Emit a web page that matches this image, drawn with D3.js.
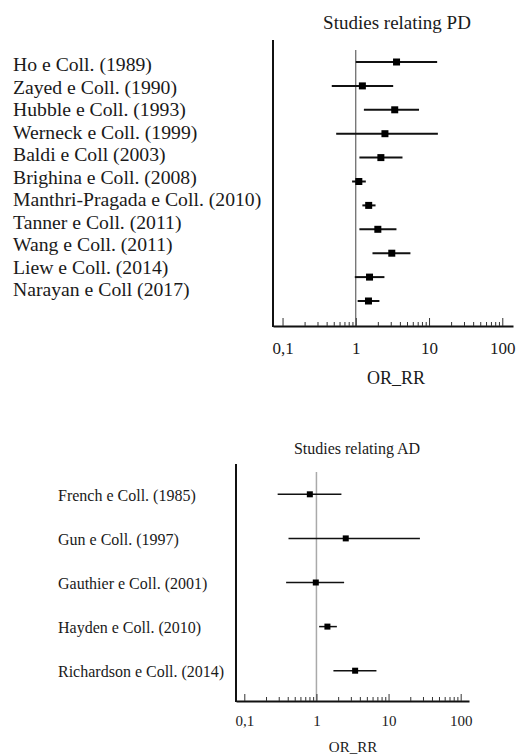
<!DOCTYPE html>
<html>
<head>
<meta charset="utf-8">
<script src="https://cdn.jsdelivr.net/npm/d3@7/dist/d3.min.js"></script>
<style>
  body { margin: 0; background: #fff; }
</style>
</head>
<body>
<div id="chart"></div>
<script>
var svgWidth = 518;
var svgHeight = 755;
var serif = "'Liberation Serif', 'Times New Roman', Times, serif";

// PD studies
var pdStudies = ["Ho e Coll. (1989)", "Zayed e Coll. (1990)", "Hubble e Coll. (1993)",
  "Werneck e Coll. (1999)", "Baldi e Coll (2003)", "Brighina e Coll. (2008)",
  "Manthri-Pragada e Coll. (2010)", "Tanner e Coll. (2011)", "Wang e Coll. (2011)",
  "Liew e Coll. (2014)", "Narayan e Coll (2017)"];
var pdEstimate = [3.6, 1.23, 3.4, 2.5, 2.2, 1.1, 1.5, 2.0, 3.1, 1.54, 1.49];
var pdLower = [1.0, 0.47, 1.29, 0.54, 1.12, 0.89, 1.23, 1.12, 1.69, 0.97, 1.06];
var pdUpper = [12.9, 3.24, 7.3, 13.2, 4.34, 1.37, 1.86, 3.59, 5.57, 2.46, 2.10];

// AD studies
var adStudies = ["French e Coll. (1985)", "Gun e Coll. (1997)", "Gauthier e Coll. (2001)",
  "Hayden e Coll. (2010)", "Richardson e Coll. (2014)"];
var adEstimate = [0.81, 2.55, 0.98, 1.42, 3.44];
var adLower = [0.29, 0.41, 0.38, 1.09, 1.72];
var adUpper = [2.22, 27.2, 2.42, 1.92, 6.79];

var majorTicks = [0.1, 1, 10, 100];
var tickText = ["0,1", "1", "10", "100"];

var svg = d3.select("#chart")
  .append("svg")
  .attr("width", svgWidth)
  .attr("height", svgHeight);

function isMajor(d) {
  return majorTicks.some(function(m) { return Math.abs(m - d) < 1e-9; });
}

function forest(opt) {
  var g = svg.append("g");

  var x = d3.scaleLog().domain(opt.xDomain).range(opt.xRange);
  var y = d3.scalePoint().domain(opt.studies).range(opt.yRange);
  var yLabel = d3.scalePoint().domain(opt.studies).range(opt.labelRange);

  var rows = opt.studies.map(function(s, i) {
    return { name: s, est: opt.est[i], lo: opt.lo[i], hi: opt.hi[i] };
  });

  // title
  g.append("text")
    .attr("x", opt.titleX)
    .attr("y", opt.titleY)
    .attr("text-anchor", "middle")
    .attr("fill", "#1a1a1a")
    .style("font-family", serif)
    .style("font-size", opt.titleSize + "px")
    .text(opt.title);

  // reference line at 1
  g.append("line")
    .attr("x1", x(1)).attr("x2", x(1))
    .attr("y1", opt.refTop).attr("y2", opt.axisY)
    .attr("stroke", opt.refColor)
    .attr("stroke-width", opt.refWidth);

  // x axis, ticks pointing up
  var allTicks = x.ticks().filter(function(t) { return t >= 0.1 && t <= 100; });
  var xAxis = g.append("g")
    .attr("transform", `translate(0, ${opt.axisY})`)
    .call(d3.axisBottom(x)
      .tickValues(allTicks)
      .tickSizeInner(-opt.minorLen)
      .tickSizeOuter(0)
      .tickFormat(function(d) {
        var k = majorTicks.findIndex(function(m) { return Math.abs(m - d) < 1e-9; });
        return k >= 0 ? tickText[k] : "";
      }));
  xAxis.attr("font-family", serif);
  xAxis.select(".domain").attr("stroke", "#111").attr("stroke-width", 2);
  xAxis.selectAll(".tick line").attr("stroke", "#333")
    .attr("y2", d => isMajor(d) ? -opt.majorLen : -opt.minorLen);
  xAxis.selectAll(".tick text")
    .attr("y", opt.tickBase)
    .attr("dy", 0)
    .attr("fill", "#1a1a1a")
    .style("font-family", serif)
    .style("font-size", opt.tickSize + "px");

  // y axis line
  g.append("line")
    .attr("x1", opt.xRange[0]).attr("x2", opt.xRange[0])
    .attr("y1", opt.axisTop).attr("y2", opt.axisY + 1)
    .attr("stroke", "#111")
    .attr("stroke-width", 2);

  // axis title
  g.append("text")
    .attr("x", opt.xTitleX)
    .attr("y", opt.xTitleY)
    .attr("text-anchor", "middle")
    .attr("fill", "#1a1a1a")
    .style("font-family", serif)
    .style("font-size", opt.xTitleSize + "px")
    .text("OR_RR");

  // study labels
  g.selectAll(".label")
    .data(rows)
    .enter()
    .append("text")
    .attr("x", opt.labelX)
    .attr("y", d => yLabel(d.name))
    .attr("fill", "#1a1a1a")
    .style("font-family", serif)
    .style("font-size", opt.labelSize + "px")
    .text(d => d.name);

  // confidence intervals
  g.selectAll(".ci")
    .data(rows)
    .enter()
    .append("line")
    .attr("x1", d => x(d.lo))
    .attr("x2", d => x(d.hi))
    .attr("y1", d => y(d.name))
    .attr("y2", d => y(d.name))
    .attr("stroke", "#111")
    .attr("stroke-width", opt.ciWidth);

  // point estimates
  g.selectAll(".pt")
    .data(rows)
    .enter()
    .append("rect")
    .attr("x", d => x(d.est) - opt.box / 2)
    .attr("y", d => y(d.name) - opt.box / 2)
    .attr("width", opt.box)
    .attr("height", opt.box)
    .attr("fill", "#000");
}

forest({
  studies: pdStudies, est: pdEstimate, lo: pdLower, hi: pdUpper,
  title: "Studies relating PD", titleX: 397, titleY: 29, titleSize: 19,
  xDomain: [0.0741, 140], xRange: [273, 513],
  yRange: [62, 301], labelRange: [71, 296], labelX: 13, labelSize: 19.7,
  axisTop: 40, axisY: 326, refTop: 50, refColor: "#444", refWidth: 1,
  majorLen: 8, minorLen: 4, tickBase: 28, tickSize: 17,
  xTitleX: 396, xTitleY: 384, xTitleSize: 18,
  ciWidth: 2, box: 7
});

forest({
  studies: adStudies, est: adEstimate, lo: adLower, hi: adUpper,
  title: "Studies relating AD", titleX: 357, titleY: 454, titleSize: 16,
  xDomain: [0.0767, 130.4], xRange: [236, 469],
  yRange: [494.3, 670.7], labelRange: [501, 677], labelX: 58, labelSize: 16,
  axisTop: 464, axisY: 701, refTop: 472, refColor: "#aaa", refWidth: 1.5,
  majorLen: 7, minorLen: 4, tickBase: 25, tickSize: 15,
  xTitleX: 353, xTitleY: 752, xTitleSize: 15,
  ciWidth: 1.5, box: 6
});
</script>
</body>
</html>
